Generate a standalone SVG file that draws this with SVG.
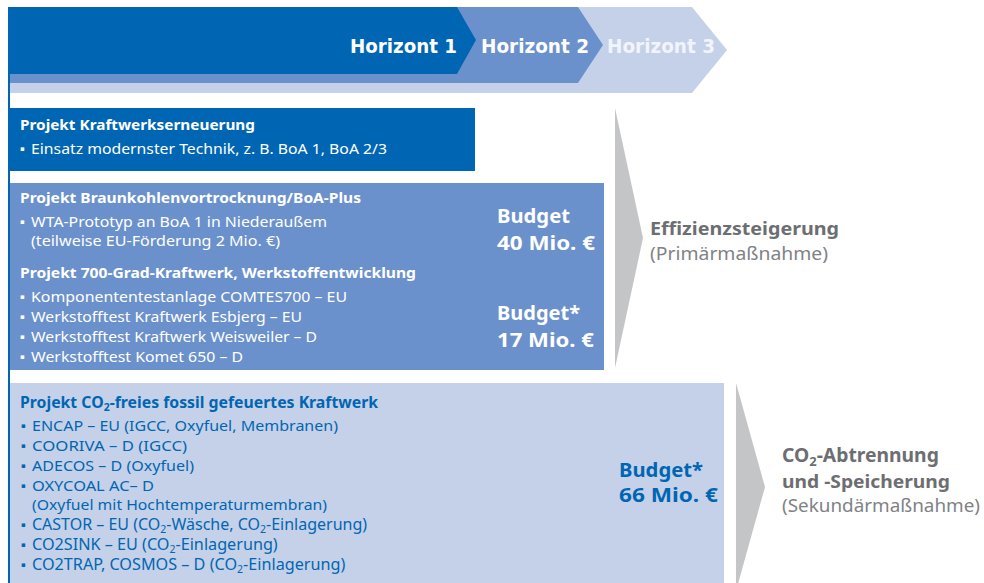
<svg xmlns="http://www.w3.org/2000/svg" width="984" height="583" viewBox="0 0 984 583">
<style>
.t{font-family:"Noto Sans","Liberation Sans",sans-serif;font-size:15px}
.b{font-weight:bold}
.w{fill:#ffffff}
.bl{fill:#0066b3}
.g{fill:#6d6e71}
.g2{fill:#808285}
.bu{font-family:"DejaVu Sans",sans-serif;font-size:7px}
.hz{font-family:"DejaVu Sans","Liberation Sans",sans-serif;font-size:20px;font-weight:bold}
.bg{font-family:"Noto Sans","Liberation Sans",sans-serif;font-size:19px;font-weight:bold}
.gt{font-family:"Noto Sans","Liberation Sans",sans-serif;font-size:18px}
</style>
<rect width="984" height="583" fill="#ffffff"/>
<g id="banner">
<polygon points="8,7 692,7 727,50 692,93 8,93" fill="#c5d1e8"/>
<polygon points="8,7 578,7 603,45 578,83 8,83" fill="#6b91cc"/>
<polygon points="8,7 457,7 476,40 457,74 8,74" fill="#0066b3"/>
<text class="hz w" x="350" y="53" textLength="107" lengthAdjust="spacingAndGlyphs">Horizont 1</text>
<text class="hz w" x="481" y="53" textLength="108" lengthAdjust="spacingAndGlyphs">Horizont 2</text>
<text class="hz" x="607" y="53" fill="#f1f4fa" textLength="108" lengthAdjust="spacingAndGlyphs">Horizont 3</text>
</g>
<line x1="9" y1="7" x2="9" y2="583" stroke="#0066b3" stroke-width="2"/>
<g id="box1">
<rect x="10" y="108" width="465" height="63" fill="#0066b3"/>
<text class="t b w" x="20" y="130" textLength="235" lengthAdjust="spacingAndGlyphs">Projekt Kraftwerkserneuerung</text>
<text class="bu w" x="20" y="150.5">▪</text>
<text class="t w" x="31" y="154" textLength="356" lengthAdjust="spacingAndGlyphs">Einsatz modernster Technik, z. B. BoA 1, BoA 2/3</text>
</g>
<g id="box2">
<rect x="10" y="183" width="594" height="187" fill="#6b91cc"/>
<text class="t b w" x="20" y="203" textLength="341" lengthAdjust="spacingAndGlyphs">Projekt Braunkohlenvortrocknung/BoA-Plus</text>
<text class="bu w" x="20" y="223.5">▪</text>
<text class="t w" x="31" y="227" textLength="296" lengthAdjust="spacingAndGlyphs">WTA-Prototyp an BoA 1 in Niederaußem</text>
<text class="t w" x="31" y="246" textLength="249" lengthAdjust="spacingAndGlyphs">(teilweise EU-Förderung 2 Mio. €)</text>
<text class="t b w" x="20" y="278" textLength="396" lengthAdjust="spacingAndGlyphs">Projekt 700-Grad-Kraftwerk, Werkstoffentwicklung</text>
<text class="bu w" x="20" y="298.5">▪</text>
<text class="t w" x="31" y="302" textLength="316" lengthAdjust="spacingAndGlyphs">Komponententestanlage COMTES700 – EU</text>
<text class="bu w" x="20" y="318.5">▪</text>
<text class="t w" x="31" y="322" textLength="271" lengthAdjust="spacingAndGlyphs">Werkstofftest Kraftwerk Esbjerg – EU</text>
<text class="bu w" x="20" y="338.5">▪</text>
<text class="t w" x="31" y="342" textLength="286" lengthAdjust="spacingAndGlyphs">Werkstofftest Kraftwerk Weisweiler – D</text>
<text class="bu w" x="20" y="358.5">▪</text>
<text class="t w" x="31" y="362" textLength="212" lengthAdjust="spacingAndGlyphs">Werkstofftest Komet 650 – D</text>
<text class="bg w" x="497" y="223" textLength="73" lengthAdjust="spacingAndGlyphs">Budget</text>
<text class="bg w" x="497" y="250" textLength="98" lengthAdjust="spacingAndGlyphs">40 Mio. €</text>
<text class="bg w" x="497" y="320" textLength="83" lengthAdjust="spacingAndGlyphs">Budget*</text>
<text class="bg w" x="497" y="347" textLength="97" lengthAdjust="spacingAndGlyphs">17 Mio. €</text>
</g>
<g id="box3">
<rect x="10" y="383" width="714" height="200" fill="#c5d1e8"/>
<text class="t b bl" x="20" y="408" style="font-size:15.8px">Projekt CO<tspan font-size="10.5" dy="3">2</tspan><tspan dy="-3">-freies fossil gefeuertes Kraftwerk</tspan></text>
<text class="bu bl" x="21" y="427.5">▪</text>
<text class="t bl" x="32" y="431" textLength="306" lengthAdjust="spacingAndGlyphs">ENCAP – EU (IGCC, Oxyfuel, Membranen)</text>
<text class="bu bl" x="21" y="447.5">▪</text>
<text class="t bl" x="32" y="451" textLength="155" lengthAdjust="spacingAndGlyphs">COORIVA – D (IGCC)</text>
<text class="bu bl" x="21" y="467.5">▪</text>
<text class="t bl" x="32" y="471" textLength="162" lengthAdjust="spacingAndGlyphs">ADECOS – D (Oxyfuel)</text>
<text class="bu bl" x="21" y="487.5">▪</text>
<text class="t bl" x="32" y="491" textLength="122" lengthAdjust="spacingAndGlyphs">OXYCOAL AC– D</text>
<text class="t bl" x="32" y="510" textLength="295" lengthAdjust="spacingAndGlyphs">(Oxyfuel mit Hochtemperaturmembran)</text>
<text class="bu bl" x="21" y="526.5">▪</text>
<text class="t bl" x="32" y="530" style="font-size:16px">CASTOR – EU (CO<tspan font-size="10.5" dy="3">2</tspan><tspan dy="-3">-Wäsche, CO</tspan><tspan font-size="10.5" dy="3">2</tspan><tspan dy="-3">-Einlagerung)</tspan></text>
<text class="bu bl" x="21" y="546.5">▪</text>
<text class="t bl" x="32" y="550" style="font-size:16.2px">CO2SINK – EU (CO<tspan font-size="10.5" dy="3">2</tspan><tspan dy="-3">-Einlagerung)</tspan></text>
<text class="bu bl" x="21" y="566.5">▪</text>
<text class="t bl" x="32" y="570" style="font-size:16.2px">CO2TRAP, COSMOS – D (CO<tspan font-size="10.5" dy="3">2</tspan><tspan dy="-3">-Einlagerung)</tspan></text>
<text class="bg bl" x="619" y="477" textLength="84" lengthAdjust="spacingAndGlyphs">Budget*</text>
<text class="bg bl" x="619" y="502" textLength="99" lengthAdjust="spacingAndGlyphs">66 Mio. €</text>
</g>
<g id="connectors">
<polygon points="615,108 643,238 615,368" fill="#c4c5c7"/>
<polygon points="736,383 765,487 736,591" fill="#c4c5c7"/>
</g>
<g id="effizienz">
<text class="gt b g" x="650" y="235" textLength="189" lengthAdjust="spacingAndGlyphs">Effizienzsteigerung</text>
<text class="gt g2" x="650" y="260" textLength="178" lengthAdjust="spacingAndGlyphs">(Primärmaßnahme)</text>
</g>
<g id="co2">
<text class="gt b g" x="782" y="462" style="font-size:19.3px">CO<tspan font-size="13" dy="4">2</tspan><tspan dy="-4">-Abtrennung</tspan></text>
<text class="gt b g" x="782" y="488" textLength="168" lengthAdjust="spacingAndGlyphs">und -Speicherung</text>
<text class="gt g2" x="782" y="512" textLength="198" lengthAdjust="spacingAndGlyphs">(Sekundärmaßnahme)</text>
</g>
</svg>
